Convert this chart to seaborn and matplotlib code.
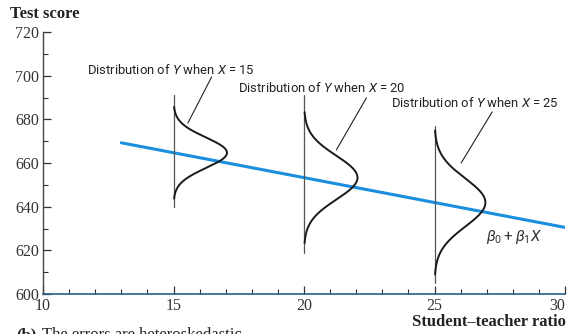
import numpy as np
import pandas as pd
import matplotlib
matplotlib.use('Agg')
import matplotlib.pyplot as plt
import seaborn as sns
from matplotlib.ticker import MultipleLocator

# regression line (population line beta0 + beta1*X)
beta0 = 698.9
beta1 = -2.28
line_x = [13, 30]

# conditional distributions of Y at three values of X
dist_x = [15, 20, 25]
dist_sd = [7, 10, 11]          # spread grows with X (heteroskedastic)
dist_peak = [2.05, 2.05, 1.95]  # drawn width of the bell, in X units
vline_lo = [640, 619, 605]
vline_hi = [691, 691, 677]
dist_labels = ['Distribution of $Y$ when $X$ = 15',
               'Distribution of $Y$ when $X$ = 20',
               'Distribution of $Y$ when $X$ = 25']

y_ticks = [600, 620, 640, 660, 680, 700, 720]
x_ticks = [10, 15, 20, 25, 30]

sns.set_style('ticks')
plt.rcParams['font.family'] = ['Liberation Serif', 'DejaVu Serif']
plt.rcParams['mathtext.fontset'] = 'custom'
plt.rcParams['mathtext.rm'] = 'Roboto'
plt.rcParams['mathtext.it'] = 'Roboto:italic'

fig = plt.figure(figsize=(5.68, 3.34), dpi=100)
ax = fig.add_axes([43/568, 40/334, 522/568, 262/334])

# regression line
line_df = pd.DataFrame({'x': line_x, 'y': [beta0 + beta1 * v for v in line_x]})
sns.lineplot(data=line_df, x='x', y='y', ax=ax, color='#1a8fe0', lw=2.2)

# distributions
for x0, sd, pk, lo, hi in zip(dist_x, dist_sd, dist_peak, vline_lo, vline_hi):
    mu = beta0 + beta1 * x0
    yy = np.linspace(mu - 3 * sd, mu + 3 * sd, 200)
    xx = x0 + pk * np.exp(-0.5 * ((yy - mu) / sd) ** 2)
    ax.plot([x0, x0], [lo, hi], color='#555555', lw=0.9)
    sns.lineplot(x=xx, y=yy, ax=ax, color='#1a1a1a', lw=1.4, sort=False,
                 estimator=None)

# labels and leader lines
label_pos = [(11.68, 702.6), (17.46, 694.4), (23.35, 687.5)]
leaders = [((16.46, 699.4), (15.55, 678.3)),
           ((22.39, 689.8), (21.24, 666.0)),
           ((27.21, 683.4), (26.02, 660.0))]
for lab, (tx, ty), (p0, p1) in zip(dist_labels, label_pos, leaders):
    ax.text(tx, ty, lab, fontsize=9.4, family='Roboto', va='center', ha='left',
            color='#222222')
    ax.plot([p0[0], p1[0]], [p0[1], p1[1]], color='#222222', lw=0.8)

ax.text(26.98, 626, r'$\beta_0 + \beta_1 X$', fontsize=11, va='center', ha='left',
        color='#333333')

ax.set_xlim(10, 30)
ax.set_ylim(600, 720)
ax.set_xticks(x_ticks)
ax.set_yticks(y_ticks)
ax.xaxis.set_minor_locator(MultipleLocator(1))
ax.yaxis.set_minor_locator(MultipleLocator(10))
ax.tick_params(axis='both', which='major', direction='in', length=6, width=0.9,
               labelsize=11.5, colors='#333333', pad=3)
ax.tick_params(axis='both', which='minor', direction='in', length=3.5, width=0.8,
               colors='#333333')
ax.get_xticklabels()[-1].set_ha('right')
ax.set_xlabel('')
ax.set_ylabel('')
sns.despine(ax=ax)
ax.spines['left'].set_color('#444444')
ax.spines['bottom'].set_color('#2a5f86')
ax.spines['left'].set_linewidth(1.0)
ax.spines['bottom'].set_linewidth(1.2)

fig.text(10/568, 1 - 14/334, 'Test score', fontsize=12, fontweight='bold',
         va='center', ha='left', color='#222222')
fig.text(566/568, 1 - 322/334, 'Student\u2013teacher ratio', fontsize=12,
         fontweight='bold', va='center', ha='right', color='#222222')
fig.text(16/568, 1 - 327/334, '(b)', fontsize=12, fontweight='bold',
         va='top', ha='left', color='#222222')
fig.text(42/568, 1 - 327/334, 'The errors are heteroskedastic', fontsize=12,
         va='top', ha='left', color='#222222')

fig.savefig('out.png', dpi=100)
